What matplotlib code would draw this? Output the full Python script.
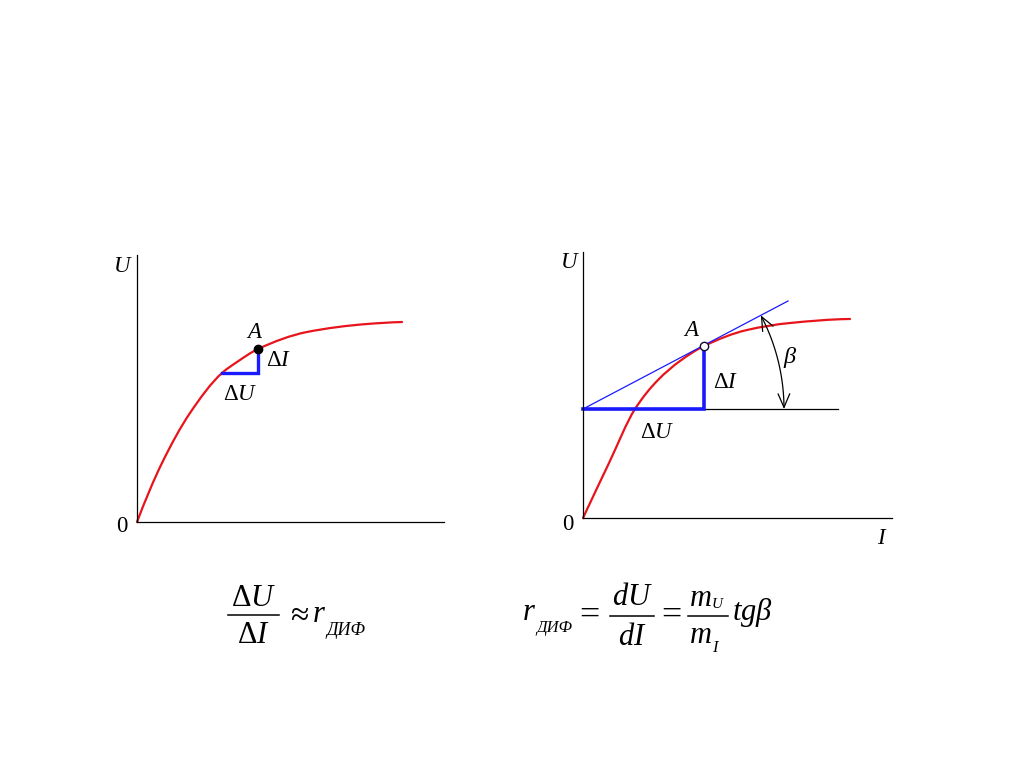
import numpy as np
import matplotlib
matplotlib.use("Agg")
import matplotlib.pyplot as plt
from matplotlib.patches import FancyArrowPatch, PathPatch
from matplotlib.path import Path
from matplotlib.lines import Line2D

plt.rcParams['font.family'] = ['Liberation Serif', 'DejaVu Serif']
plt.rcParams['mathtext.fontset'] = 'custom'
plt.rcParams['mathtext.rm'] = 'Liberation Serif'
plt.rcParams['mathtext.it'] = 'Liberation Serif:italic'
plt.rcParams['mathtext.bf'] = 'Liberation Serif:bold'

# ---- data (units ~ pixels from origin) ----
# left diagram: U(I) characteristic
I_left = [0, 25, 53, 85, 100, 121, 170, 230, 265]
U_left = [0, 59, 109, 149, 160, 173, 190, 198, 200]
A_left = (121, 173)            # point A
step_left_I = [85, 121, 121]   # blue step (ΔU horizontal, ΔI vertical)
step_left_U = [149, 149, 173]

# right diagram
I_right = [0, 26, 52, 75, 97, 121, 164, 207, 267]
U_right = [0, 55, 109, 138, 157, 172, 188, 195, 199]
A_right = (121, 172)
base_level = 109               # horizontal reference line
base_line_I = [0, 255]
step_right_I = [0, 121, 121]
step_right_U = [109, 109, 172]
tangent_I = [0, 205]
tangent_U = [109, 217]
arc_radius = 201

RED = '#e8141c'
BLUE = '#1a1aff'

W, H = 1024, 768
fig = plt.figure(figsize=(W / 100, H / 100), dpi=100)

def px_axes(x0, y0, w, h):
    # origin at pixel (x0, y0) measured from top-left
    return fig.add_axes([x0 / W, (H - y0) / H, w / W, h / H])

def style(ax, xmax, ymax):
    ax.set_xlim(0, xmax)
    ax.set_ylim(0, ymax)
    for s in ['top', 'right']:
        ax.spines[s].set_visible(False)
    ax.spines['left'].set_linewidth(0.9)
    ax.spines['bottom'].set_linewidth(0.9)
    ax.set_xticks([])
    ax.set_yticks([])
    ax.patch.set_alpha(0)

def smooth_path(xs, ys):
    # monotone (PCHIP-style) cubic through the read points, as Bezier segments
    x = np.asarray(xs, float)
    y = np.asarray(ys, float)
    h = np.diff(x)
    d = np.diff(y) / h
    m = np.zeros_like(x)
    for i in range(1, len(x) - 1):
        if d[i - 1] * d[i] > 0:
            w1 = 2 * h[i] + h[i - 1]
            w2 = h[i] + 2 * h[i - 1]
            m[i] = (w1 + w2) / (w1 / d[i - 1] + w2 / d[i])
    m[0] = max(0.0, ((2 * h[0] + h[1]) * d[0] - h[0] * d[1]) / (h[0] + h[1]))
    m[-1] = max(0.0, ((2 * h[-1] + h[-2]) * d[-1] - h[-1] * d[-2]) / (h[-1] + h[-2]))
    verts = [(x[0], y[0])]
    codes = [Path.MOVETO]
    for i in range(len(x) - 1):
        verts += [(x[i] + h[i] / 3, y[i] + m[i] * h[i] / 3),
                  (x[i + 1] - h[i] / 3, y[i + 1] - m[i + 1] * h[i] / 3),
                  (x[i + 1], y[i + 1])]
        codes += [Path.CURVE4] * 3
    return Path(verts, codes)

def draw_curve(ax, xs, ys):
    ax.add_patch(PathPatch(smooth_path(xs, ys), fill=False, edgecolor=RED,
                           lw=1.6, capstyle='round', clip_on=False))

FS = 16.5

# ---- left diagram ----
axL = px_axes(137, 522, 307, 267)
style(axL, 307, 267)
draw_curve(axL, I_left, U_left)
axL.plot(step_left_I, step_left_U, color=BLUE, lw=2.4, clip_on=False, solid_joinstyle='miter')
axL.plot(*A_left, 'o', color='black', ms=6, clip_on=False, zorder=5)
axL.text(-14, 256, '$U$', fontsize=FS, ha='center', va='center')
axL.text(-15, -5, '0', fontsize=FS, ha='center', va='center')
axL.text(118, 190, '$A$', fontsize=FS, ha='center', va='center')
axL.text(129, 161, r'$\Delta I$', fontsize=FS, ha='left', va='center')
axL.text(103, 128, r'$\Delta U$', fontsize=FS, ha='center', va='center')

# ---- right diagram ----
axR = px_axes(583, 518, 309, 266)
style(axR, 309, 266)
axR.plot(base_line_I, [base_level, base_level], color='black', lw=0.9, clip_on=False)
axR.plot(tangent_I, tangent_U, color=BLUE, lw=0.9, clip_on=False)
draw_curve(axR, I_right, U_right)
axR.plot(step_right_I, step_right_U, color=BLUE, lw=2.6, clip_on=False, solid_joinstyle='miter')
axR.plot(*A_right, 'o', mfc='white', mec='#101030', mew=1.0, ms=6, clip_on=False, zorder=5)

beta = np.arctan2(tangent_U[1] - tangent_U[0], tangent_I[1] - tangent_I[0])
th = np.linspace(beta, 0, 40)
arc = Path(np.column_stack([tangent_I[0] + arc_radius * np.cos(th),
                            base_level + arc_radius * np.sin(th)]))
arr = FancyArrowPatch(path=arc, arrowstyle='<->,head_length=0.7,head_width=0.3',
                      mutation_scale=14, color='black', lw=0.9,
                      transform=axR.transData, clip_on=False)
axR.add_patch(arr)

axR.text(-13, 256, '$U$', fontsize=FS, ha='center', va='center')
axR.text(-15, -6, '0', fontsize=FS, ha='center', va='center')
axR.text(299, -20, '$I$', fontsize=FS, ha='center', va='center')
axR.text(109, 187, '$A$', fontsize=FS, ha='center', va='center')
axR.text(130, 136, r'$\Delta I$', fontsize=FS, ha='left', va='center')
axR.text(74, 86, r'$\Delta U$', fontsize=FS, ha='center', va='center')
axR.text(207, 161, r'$\beta$', fontsize=FS + 1, ha='center', va='center')

# ---- formulas (laid out piece by piece, pixel positions from top-left) ----
FF = 22
FEQ = 26

def T(x, y, s, size=FF, ha='left', va='baseline', style='normal'):
    fig.text(x / W, 1 - y / H, s, fontsize=size, ha=ha, va=va, fontstyle=style)

def bar(x0, x1, y):
    fig.add_artist(Line2D([x0 / W, x1 / W], [1 - y / H, 1 - y / H],
                          transform=fig.transFigure, color='black', lw=1.1))

# left: ΔU/ΔI ≈ r_ДИФ
T(253.5, 606.5, r'$\Delta U$', ha='center')
bar(228, 279, 615)
T(253.5, 643, r'$\Delta I$', ha='center')
T(297.5, 615, r'$\approx$', size=24, ha='center', va='center')
T(312, 622, r'$r$')
T(326, 635, 'ДИФ', size=13, style='italic')
# right: r_ДИФ = dU/dI = m_U/m_I tgβ
T(522, 620, r'$r$')
T(536, 632, 'ДИФ', size=12, style='italic')
T(587, 615, r'$=$', size=FEQ, ha='center', va='center')
T(632, 605, r'$dU$', ha='center')
bar(610, 654, 615.5)
T(632, 645, r'$dI$', ha='center')
T(669, 615, r'$=$', size=FEQ, ha='center', va='center')
T(689, 605.5, r'$m$')
T(711, 608, r'$U$', size=11)
bar(688, 728, 615.5)
T(689, 643, r'$m$')
T(712, 652, r'$I$', size=12)
T(732, 620, r'$tg\beta$')

fig.savefig('out.png', dpi=100)
